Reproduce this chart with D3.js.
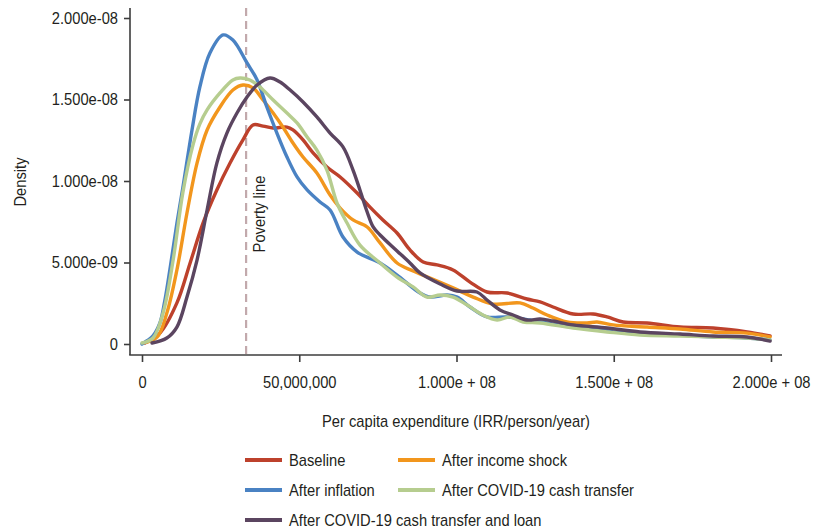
<!DOCTYPE html>
<html>
<head>
<meta charset="utf-8">
<script src="https://cdn.jsdelivr.net/npm/d3@7"></script>
<style>
  html, body { margin: 0; padding: 0; background: #ffffff; }
  svg { display: block; }
  text { font-family: "Liberation Sans Narrow", "Liberation Sans", "DejaVu Sans Condensed", sans-serif; fill: #231f20; }
</style>
</head>
<body>
<svg id="chart" width="818" height="531"></svg>
<script>
// ---- DATA (x in millions IRR, density in units of 1e-9) ----
const seriesNames = ["Baseline", "After income shock", "After inflation", "After COVID-19 cash transfer", "After COVID-19 cash transfer and loan"];
const seriesColors = ["#bd412c", "#f2961d", "#4a82c3", "#b6cd8f", "#5b4560"];

const baselineX = [0.95,5.7,11.1,15.3,19.4,23.8,28.0,32.1,35.3,38.5,41.7,46.1,48.0,51.2,54.4,58.8,63.0,68.4,72.5,76.6,81.1,85.2,89.4,93.8,98.9,104.3,109.7,116.1,122.4,126.6,130.7,137.1,143.4,147.9,153.0,160.6,171.1,181.6,192.4,199.7];
const baselineY = [0.06,0.67,2.52,4.97,7.42,9.45,11.10,12.52,13.44,13.37,13.25,13.31,13.13,12.52,11.72,10.86,10.25,9.26,8.40,7.61,6.81,5.77,5.03,4.85,4.54,3.80,3.19,3.13,2.76,2.58,2.27,1.84,1.84,1.66,1.35,1.29,1.04,0.98,0.74,0.49];

const incomeX = [0.3,4.8,7.9,11.1,14.3,17.5,20.7,24.8,28.9,32.1,35.3,38.5,41.7,44.8,48.0,51.2,55.6,59.8,63.0,67.1,71.6,75.7,81.1,86.2,91.6,98.9,105.3,111.6,120.2,124.3,128.8,135.1,141.5,144.7,149.8,160.6,171.1,181.6,192.4,199.7];
const incomeY = [0.06,0.43,1.90,4.54,8.04,11.10,13.13,14.54,15.58,15.89,15.71,14.97,14.17,13.31,12.33,11.47,10.49,9.14,8.34,7.61,7.18,6.20,4.97,4.48,4.05,3.44,2.88,2.45,2.52,2.21,1.78,1.35,1.29,1.35,1.17,1.04,0.92,0.74,0.67,0.43];

const inflationX = [0,1.6,3.5,5.7,7.2,8.9,11.1,13.0,15.9,18.4,21.6,25.8,28.9,33.4,36.6,39.7,42.9,46.1,49.3,52.5,56.6,59.8,63.9,68.4,75.7,81.1,88.4,91.6,97.0,100.2,104.3,109.7,116.1,123.4,128.8,137.1,144.7,149.8,160.6,171.1,181.6,192.4,199.7];
const inflationY = [0,0.2,0.5,1.3,2.6,4.6,7.4,9.6,13.13,15.77,17.85,18.96,18.65,17.24,16.20,14.54,12.94,11.47,10.25,9.45,8.71,8.22,6.56,5.64,4.97,4.23,3.13,2.88,3.01,2.88,2.27,1.66,1.66,1.47,1.29,1.04,0.98,0.74,0.67,0.55,0.43,0.37,0.25];

const cashX = [0,3.5,6.7,9.9,13.0,16.2,18.4,20.7,24.8,28.9,31.2,34.3,37.5,41.7,46.1,49.3,52.5,55.6,58.8,62.0,65.2,69.3,75.7,81.1,86.2,90.6,94.8,98.9,103.4,108.4,112.9,117.0,121.2,126.6,137.1,147.9,158.4,171.1,181.6,192.4,199.7];
const cashY = [0.06,0.37,1.90,5.15,9.3,12.2,13.5,14.36,15.40,16.20,16.32,16.20,15.77,14.97,14.17,13.56,12.70,11.90,10.67,8.65,7.42,6.07,4.97,4.11,3.50,2.88,3.01,2.88,2.39,1.78,1.47,1.66,1.35,1.29,0.98,0.74,0.55,0.49,0.43,0.37,0.25];

const loanX = [3.2,7.9,11.1,14.3,17.5,20.7,23.8,27.0,30.2,33.4,36.6,40.7,43.9,47.1,51.2,55.6,59.8,63.9,67.1,69.3,71.6,73.5,75.7,81.1,85.2,88.4,94.8,100.2,106.5,109.7,113.8,118.0,122.4,126.6,130.7,137.1,147.9,158.4,171.1,181.6,192.4,199.7];
const loanY = [0.06,0.37,1.04,2.88,5.15,8.22,11.10,12.94,14.17,15.15,15.89,16.32,16.07,15.58,14.85,13.93,12.94,12.09,10.67,9.45,8.10,7.18,6.69,5.71,4.97,4.36,3.68,3.25,3.19,2.70,2.09,1.78,1.47,1.53,1.41,1.17,0.98,0.74,0.61,0.49,0.43,0.18];

const povertyLine = 33.1; // millions IRR

const xTickValues = [0, 50, 100, 150, 200];
const xTickLabels = ["0", "50,000,000", "1.000e + 08", "1.500e + 08", "2.000e + 08"];
const yTickValues = [0, 5, 10, 15, 20];
const yTickLabels = ["0", "5.000e-09", "1.000e-08", "1.500e-08", "2.000e-08"];

// ---- BUILD ----
const allX = [baselineX, incomeX, inflationX, cashX, loanX];
const allY = [baselineY, incomeY, inflationY, cashY, loanY];
const series = seriesNames.map((name, i) => ({
  name, color: seriesColors[i],
  points: allX[i].map((x, j) => ({ x: x, y: allY[i][j] }))
}));

const svg = d3.select("#chart");
const x = d3.scaleLinear().domain([0, 200]).range([142, 771]);
const y = d3.scaleLinear().domain([0, 20]).range([344, 18]);

const axisColor = "#3c3c3c";
const fontSize = 17;

// axis lines
svg.append("line").attr("x1", 130).attr("x2", 130).attr("y1", 8).attr("y2", 355)
  .attr("stroke", axisColor).attr("stroke-width", 1.6);
svg.append("line").attr("x1", 129.2).attr("x2", 782).attr("y1", 355).attr("y2", 355)
  .attr("stroke", axisColor).attr("stroke-width", 1.6);

// y axis ticks
const yAxis = d3.axisLeft(y).tickValues(yTickValues)
  .tickFormat((d, i) => yTickLabels[i]).tickSize(6).tickSizeOuter(0).tickPadding(6);
const gy = svg.append("g").attr("transform", "translate(130,0)").call(yAxis);
gy.select(".domain").remove();
gy.selectAll(".tick line").attr("stroke", axisColor).attr("stroke-width", 1.6);
gy.selectAll(".tick text").style("font-size", fontSize + "px").attr("fill", "#231f20")
  .attr("font-family", null);

// x axis ticks
const xAxis = d3.axisBottom(x).tickValues(xTickValues)
  .tickFormat((d, i) => xTickLabels[i]).tickSize(7).tickSizeOuter(0).tickPadding(14);
const gx = svg.append("g").attr("transform", "translate(0,355)").call(xAxis);
gx.select(".domain").remove();
gx.selectAll(".tick line").attr("stroke", axisColor).attr("stroke-width", 1.6);
gx.selectAll(".tick text").style("font-size", fontSize + "px").attr("fill", "#231f20")
  .attr("font-family", null);
gy.attr("font-family", null);
gx.attr("font-family", null);

// poverty line
svg.append("line").attr("x1", x(povertyLine)).attr("x2", x(povertyLine))
  .attr("y1", 8).attr("y2", 355)
  .attr("stroke", "#c2a9ac").attr("stroke-width", 2.2).attr("stroke-dasharray", "8,5");

// curves
const line = d3.line().x(d => x(d.x)).y(d => y(d.y)).curve(d3.curveCatmullRom.alpha(0.5));
svg.append("g").selectAll("path").data(series).join("path")
  .attr("d", d => line(d.points))
  .attr("fill", "none")
  .attr("stroke", d => d.color)
  .attr("stroke-width", 3.4)
  .attr("stroke-linejoin", "round")
  .attr("stroke-linecap", "round");

// poverty line label
svg.append("text")
  .attr("transform", `translate(${x(povertyLine) + 19},214) rotate(-90)`)
  .attr("text-anchor", "middle")
  .style("font-size", fontSize + "px")
  .text("Poverty line");

// axis titles
svg.append("text")
  .attr("transform", "translate(26,182) rotate(-90)")
  .attr("text-anchor", "middle")
  .style("font-size", fontSize + "px")
  .text("Density");
const xTitle = svg.append("text")
  .attr("x", 456).attr("y", 427)
  .attr("text-anchor", "middle")
  .style("font-size", fontSize + "px")
  .text("Per capita expenditure (IRR/person/year)");

// legend
const legendPos = [[245, 460], [398, 460], [245, 490], [398, 490], [245, 520]];
const lg = svg.append("g").selectAll("g").data(series).join("g")
  .attr("transform", (d, i) => `translate(${legendPos[i][0]},${legendPos[i][1]})`);
lg.append("line").attr("x1", 0).attr("x2", 37).attr("y1", 0).attr("y2", 0)
  .attr("stroke", d => d.color).attr("stroke-width", 4);
lg.append("text").attr("x", 44).attr("y", 6)
  .style("font-size", fontSize + "px")
  .text(d => d.name);

// condense text to match the narrow typeface of the original
const targetTitleWidth = 268;
const factor = Math.min(1, targetTitleWidth / xTitle.node().getComputedTextLength());
if (factor < 0.985) {
  svg.selectAll("text").each(function () {
    const len = this.getComputedTextLength();
    d3.select(this).attr("textLength", len * factor).attr("lengthAdjust", "spacingAndGlyphs");
  });
}
</script>
</body>
</html>
